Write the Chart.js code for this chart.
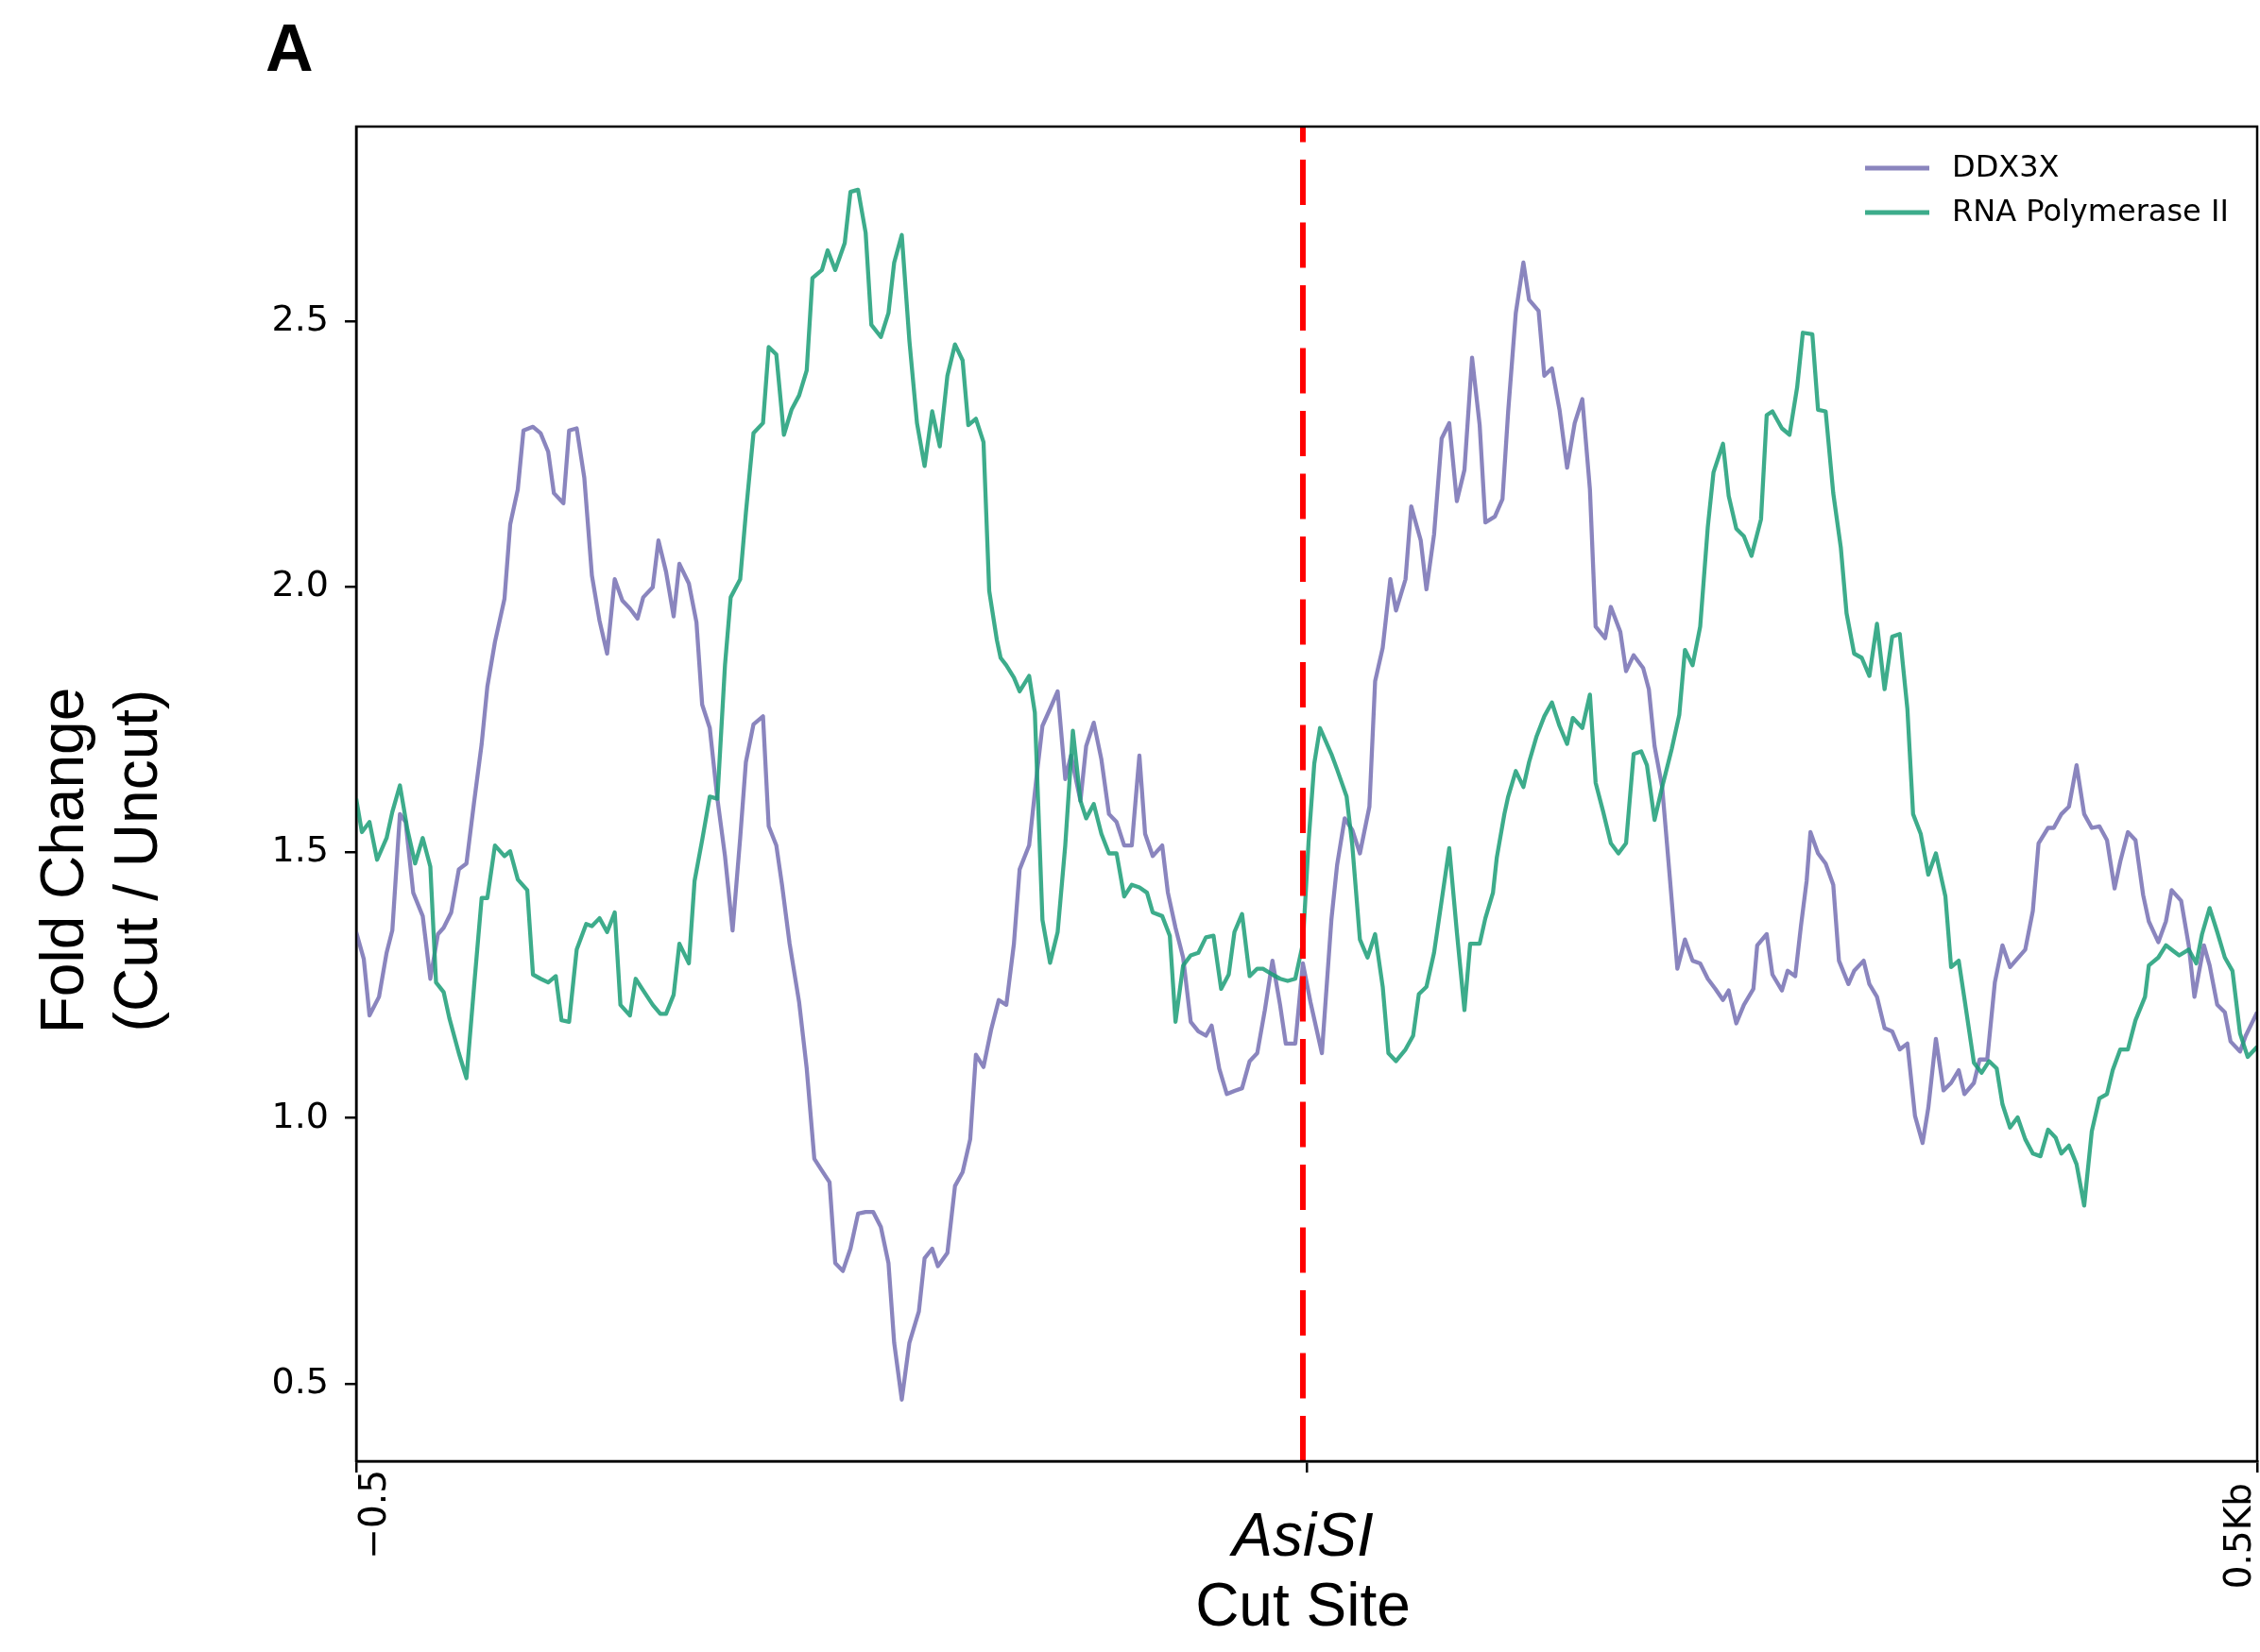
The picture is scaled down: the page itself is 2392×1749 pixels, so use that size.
<!DOCTYPE html>
<html>
<head>
<meta charset="utf-8">
<script src="https://cdn.jsdelivr.net/npm/chart.js@4.4.0/dist/chart.umd.min.js"></script>
<style>
  html, body { margin: 0; padding: 0; background: #fff; }
  canvas { display: block; }
</style>
</head>
<body>
<canvas id="foldChart" width="2392" height="1749"></canvas>
<script>
// Positions in bp relative to the AsiSI cut site, values = fold change (cut / uncut)
const ddxX = [
  -500, -496, -493, -488, -484, -481, -477, -474, -470, -465, -461, -457, -454, -450, -446,
  -442, -438, -434, -431, -427, -422, -419, -415, -412, -407, -403, -399, -396, -391, -388,
  -384, -380, -376, -372, -368, -364, -360, -356, -352, -349, -344, -341, -337, -333, -330,
  -325, -321, -318, -314, -310, -306, -302, -298, -295, -291, -286, -283, -279, -276, -272,
  -267, -263, -259, -255, -251, -248, -244, -240, -236, -232, -228, -224, -220, -217, -213,
  -209, -204, -201, -197, -194, -189, -185, -181, -177, -174, -170, -166, -162,
  -158, -154, -151, -146, -142, -139, -135, -131, -127, -124, -119, -116, -112, -108, -104,
  -100, -96, -92, -88, -85, -81, -76, -73, -69, -65, -61, -57, -53, -50, -46,
  -42, -38, -34, -30, -26, -22, -18, -14, -11, -6, -2, 2, 8,
  13, 16, 20, 24, 28, 33, 36, 40, 44, 47, 52, 55, 60, 63, 67,
  71, 75, 79, 83, 87, 91, 94, 99, 103, 106, 110, 114, 117, 122, 125,
  129, 133, 137, 141, 145, 149, 152, 157, 160, 165, 168, 172, 177,
  180, 183, 187, 191, 195, 199, 203, 207, 211, 215, 219, 222, 226, 230, 235,
  237, 242, 245, 250, 253, 257, 260, 263, 265, 269, 273, 277, 280, 285, 288,
  293, 296, 300, 304, 308, 312, 316, 320, 324, 327, 331, 335, 339, 343, 346,
  351, 354, 358, 362, 366, 370, 378, 382, 385, 390, 393, 397, 401, 405, 409,
  413, 417, 421, 425, 428, 432, 436, 440, 443, 448, 452, 455, 460, 464, 467,
  472, 475, 479, 483, 486, 491, 494, 500
];
const ddxY = [
  1.350, 1.299, 1.193, 1.228, 1.311, 1.353, 1.572, 1.557, 1.424, 1.380, 1.262, 1.346, 1.358, 1.387, 1.468,
  1.479, 1.594, 1.704, 1.812, 1.896, 1.977, 2.117, 2.183, 2.294, 2.301, 2.289, 2.254, 2.176, 2.157, 2.294,
  2.298, 2.205, 2.021, 1.936, 1.874, 2.014, 1.974, 1.959, 1.940, 1.980, 1.999, 2.087, 2.028, 1.944, 2.043,
  2.006, 1.933, 1.778, 1.734, 1.601, 1.493, 1.353, 1.527, 1.670, 1.741, 1.756, 1.549, 1.513, 1.439, 1.328,
  1.218, 1.093, 0.923, 0.901, 0.879, 0.727, 0.712, 0.754, 0.820, 0.823, 0.823, 0.795, 0.727, 0.577, 0.470,
  0.577, 0.636, 0.736, 0.754, 0.721, 0.746, 0.872, 0.898, 0.960, 1.119, 1.096, 1.166, 1.222,
  1.213, 1.328, 1.468, 1.513, 1.645, 1.738, 1.770, 1.803, 1.638, 1.682, 1.597, 1.700, 1.744, 1.675, 1.572,
  1.557, 1.513, 1.513, 1.682, 1.535, 1.493, 1.513, 1.424, 1.358, 1.302, 1.181, 1.163, 1.155, 1.174, 1.093,
  1.045, 1.051, 1.056, 1.107, 1.122, 1.203, 1.296, 1.213, 1.140, 1.140, 1.291, 1.218, 1.122,
  1.373, 1.476, 1.564, 1.542, 1.498, 1.586, 1.822, 1.885, 2.014, 1.955, 2.014, 2.151, 2.087, 1.995, 2.098,
  2.279, 2.308, 2.161, 2.220, 2.431, 2.304, 2.121, 2.132, 2.165, 2.330, 2.515, 2.610, 2.540, 2.519, 2.397,
  2.411, 2.333, 2.224, 2.308, 2.353, 2.183, 1.925, 1.903, 1.962, 1.915, 1.841, 1.871, 1.847,
  1.807, 1.700, 1.623, 1.454, 1.281, 1.336, 1.296, 1.291, 1.262, 1.243, 1.222, 1.240, 1.178, 1.213, 1.243,
  1.325, 1.346, 1.270, 1.240, 1.277, 1.267, 1.361, 1.446, 1.538, 1.498, 1.479, 1.439, 1.296, 1.252, 1.277,
  1.296, 1.252, 1.228, 1.169, 1.163, 1.129, 1.140, 1.004, 0.953, 1.019, 1.149, 1.052, 1.066, 1.090, 1.045,
  1.066, 1.110, 1.110, 1.255, 1.325, 1.284, 1.317, 1.390, 1.517, 1.546, 1.546, 1.572, 1.586, 1.664, 1.572,
  1.546, 1.549, 1.523, 1.432, 1.483, 1.538, 1.523, 1.420, 1.370, 1.331, 1.370, 1.429, 1.409, 1.325, 1.228,
  1.325, 1.287, 1.213, 1.199, 1.144, 1.125, 1.155, 1.199
];

const polX = [
  -500, -497, -493, -489, -484, -481, -477, -473, -469, -465, -461, -458, -454, -451, -446,
  -442, -438, -434, -431, -427, -422, -419, -415, -410, -407, -403, -399, -395, -392, -388,
  -384, -379, -376, -372, -368, -364, -361, -356, -353, -349, -344, -340, -337, -333, -330,
  -325, -322, -318, -314, -310, -306, -303, -298, -295, -291, -286, -283, -279, -275, -271,
  -267, -263, -260, -255, -252, -248, -243, -240, -236, -232, -229, -224, -220, -217, -213,
  -209, -205, -201, -197, -193, -189, -185, -181, -178, -174, -170, -167, -163, -161,
  -158, -154, -151, -146, -143, -139, -135, -131, -127, -123, -119, -116, -112, -108, -104,
  -100, -96, -92, -88, -84, -81, -76, -72, -69, -65, -61, -57, -53, -49, -45,
  -41, -38, -34, -30, -26, -23, -18, -14, -10, -6, -2, 1, 4, 7,
  13, 16, 21, 24, 28, 32, 36, 40, 43, 47, 52, 56, 59, 63, 67,
  71, 75, 79, 83, 86, 91, 94, 98, 100, 104, 106, 110, 114, 117, 121,
  125, 129, 133, 137, 140, 145, 149, 152, 156, 160, 164, 168, 172, 176,
  179, 183, 187, 192, 196, 199, 203, 207, 211, 214, 219, 222, 226, 230, 234,
  239, 242, 245, 250, 254, 258, 261, 266, 269, 273, 277, 281, 284, 288, 292,
  296, 300, 304, 308, 312, 316, 319, 323, 327, 331, 336, 339, 343, 346,
  351, 355, 359, 363, 366, 370, 374, 378, 382, 386, 390, 394, 397, 401, 405,
  409, 413, 417, 421, 424, 428, 432, 436, 441, 443, 448, 452, 456, 459, 464,
  468, 471, 475, 479, 483, 487, 491, 495, 500
];
const polY = [
  1.601, 1.538, 1.557, 1.486, 1.527, 1.576, 1.626, 1.542, 1.479, 1.527, 1.473, 1.255, 1.237, 1.188, 1.122,
  1.075, 1.247, 1.414, 1.414, 1.513, 1.493, 1.502, 1.449, 1.429, 1.270, 1.262, 1.255, 1.267, 1.184, 1.181,
  1.317, 1.365, 1.361, 1.376, 1.350, 1.387, 1.213, 1.193, 1.262, 1.240, 1.213, 1.196, 1.196, 1.232, 1.328,
  1.291, 1.446, 1.523, 1.605, 1.601, 1.852, 1.980, 2.014, 2.139, 2.289, 2.308, 2.451, 2.437, 2.286, 2.333,
  2.360, 2.407, 2.581, 2.596, 2.633, 2.596, 2.647, 2.743, 2.747, 2.666, 2.493, 2.470, 2.515, 2.610, 2.662,
  2.463, 2.308, 2.227, 2.330, 2.264, 2.397, 2.456, 2.426, 2.304, 2.316, 2.272, 1.992, 1.900, 1.866,
  1.852, 1.829, 1.803, 1.832, 1.763, 1.373, 1.292, 1.350, 1.513, 1.729, 1.597, 1.564, 1.591, 1.535, 1.498,
  1.498, 1.417, 1.439, 1.434, 1.424, 1.387, 1.380, 1.343, 1.181, 1.287, 1.306, 1.311, 1.340, 1.343, 1.243,
  1.270, 1.350, 1.384, 1.267, 1.281, 1.281, 1.270, 1.262, 1.258, 1.262, 1.328, 1.520, 1.667, 1.734,
  1.685, 1.656, 1.605, 1.513, 1.336, 1.302, 1.346, 1.247, 1.122, 1.107, 1.129, 1.155, 1.233, 1.247, 1.311,
  1.409, 1.508, 1.350, 1.203, 1.328, 1.328, 1.376, 1.424, 1.490, 1.572, 1.605, 1.653, 1.623, 1.670, 1.719,
  1.756, 1.782, 1.738, 1.704, 1.753, 1.734, 1.797, 1.631, 1.576, 1.517, 1.498, 1.517, 1.685, 1.690,
  1.664, 1.561, 1.623, 1.694, 1.759, 1.881, 1.852, 1.925, 2.112, 2.215, 2.269, 2.171, 2.109, 2.095, 2.058,
  2.127, 2.323, 2.330, 2.298, 2.286, 2.375, 2.478, 2.475, 2.333, 2.330, 2.176, 2.073, 1.950, 1.874, 1.866,
  1.832, 1.930, 1.807, 1.906, 1.911, 1.770, 1.572, 1.535, 1.458, 1.498, 1.417, 1.284, 1.296, 1.225,
  1.104, 1.085, 1.107, 1.093, 1.026, 0.982, 1.001, 0.960, 0.933, 0.928, 0.978, 0.963, 0.933, 0.948, 0.913,
  0.835, 0.975, 1.037, 1.045, 1.090, 1.129, 1.129, 1.184, 1.228, 1.287, 1.302, 1.325, 1.314, 1.306, 1.317,
  1.291, 1.346, 1.395, 1.350, 1.302, 1.277, 1.159, 1.115, 1.134
];

const seriesLabels = ['DDX3X', 'RNA Polymerase II'];
const cutSite = -2;
const xRange = [-500, 500];
const yRange = [0.354, 2.866];
const yTickValues = [0.5, 1.0, 1.5, 2.0, 2.5];
const xTickValues = [-500, 0, 500];
const xTickLabels = ['\u22120.5', '', '0.5Kb'];

const purple = 'rgba(117, 112, 179, 0.85)';
const green = 'rgba(27, 158, 119, 0.85)';
const dejavu = '"DejaVu Sans", Verdana, sans-serif';
const arial = '"Liberation Sans", Arial, Helvetica, sans-serif';

const toPoints = (xs, ys) => xs.map((x, i) => ({ x: x, y: ys[i] }));

// Texte, cadre et légende dessinés par-dessus le graphique
const decorations = {
    id: 'decorations',
    afterDraw(chart) {
        const ctx = chart.ctx;
        const a = chart.chartArea;
        const xScale = chart.scales.x;
        ctx.save();

        // cadre complet
        ctx.strokeStyle = '#000';
        ctx.lineWidth = 2.5;
        ctx.strokeRect(a.left, a.top, a.right - a.left, a.bottom - a.top);

        ctx.fillStyle = '#000';

        // lettre du panneau
        ctx.font = 'bold 70px ' + arial;
        ctx.textAlign = 'left';
        ctx.textBaseline = 'alphabetic';
        ctx.fillText('A', a.left - 96, a.top - 59);

        // étiquettes de l'axe x, tournées (première à gauche du tick, dernière à droite)
        ctx.font = '39px ' + dejavu;
        const tickShift = [[17, 9], null, [-21, 23]];
        xTickValues.forEach((v, i) => {
            const label = xTickLabels[i];
            if (!label) return;
            const px = xScale.getPixelForValue(v) + tickShift[i][0];
            ctx.save();
            ctx.translate(px + 14, a.bottom + tickShift[i][1]);
            ctx.rotate(-Math.PI / 2);
            ctx.textAlign = 'right';
            ctx.fillText(label, 0, 0);
            ctx.restore();
        });

        // titre de l'axe x
        const cx = xScale.getPixelForValue(cutSite);
        ctx.textAlign = 'center';
        ctx.font = 'italic 64px ' + arial;
        ctx.fillText('AsiSI', cx, a.bottom + 100);
        ctx.font = '64px ' + arial;
        ctx.fillText('Cut Site', cx, a.bottom + 174);

        // titre de l'axe y
        const midY = 911;
        ctx.save();
        ctx.translate(88, midY);
        ctx.rotate(-Math.PI / 2);
        ctx.fillText('Fold Change', 0, 0);
        ctx.restore();
        ctx.save();
        ctx.translate(166, midY);
        ctx.rotate(-Math.PI / 2);
        ctx.fillText('(Cut / Uncut)', 0, 0);
        ctx.restore();

        // légende
        ctx.font = '32px ' + dejavu;
        ctx.textAlign = 'left';
        ctx.textBaseline = 'middle';
        const entries = chart.data.datasets.filter(d => seriesLabels.includes(d.label));
        entries.forEach((d, i) => {
            const y = 178 + i * 47;
            ctx.strokeStyle = d.borderColor;
            ctx.lineWidth = 5;
            ctx.beginPath();
            ctx.moveTo(1974, y);
            ctx.lineTo(2042, y);
            ctx.stroke();
            ctx.fillStyle = '#000';
            ctx.fillText(d.label, 2066, y + 1);
        });

        ctx.restore();
    }
};

const ctx = document.getElementById('foldChart').getContext('2d');
const foldChart = new Chart(ctx, {
    type: 'line',
    data: {
        datasets: [
            {
                label: seriesLabels[0],
                data: toPoints(ddxX, ddxY),
                borderColor: purple,
                borderWidth: 4.3,
                borderJoinStyle: 'round',
                pointRadius: 0,
                tension: 0,
                order: 2,
            },
            {
                label: seriesLabels[1],
                data: toPoints(polX, polY),
                borderColor: green,
                borderWidth: 4.3,
                borderJoinStyle: 'round',
                pointRadius: 0,
                tension: 0,
                order: 1,
            },
            {
                label: 'cut',
                data: [{ x: cutSite, y: yRange[0] }, { x: cutSite, y: yRange[1] }],
                borderColor: '#ff0000',
                borderWidth: 6,
                borderDash: [48, 18.5],
                pointRadius: 0,
                order: 0,
            },
        ],
    },
    options: {
        responsive: false,
        animation: false,
        devicePixelRatio: 1,
        layout: { padding: { top: 134, right: 3, left: 0, bottom: 0 } },
        plugins: {
            legend: { display: false },
            tooltip: { enabled: false },
        },
        scales: {
            x: {
                type: 'linear',
                min: xRange[0],
                max: xRange[1],
                afterBuildTicks: (scale) => { scale.ticks = xTickValues.map(v => ({ value: v })); },
                afterFit: (scale) => { scale.height = 202; },
                ticks: { display: false },
                grid: { drawOnChartArea: false, drawTicks: true, tickLength: 12, color: '#000', lineWidth: 2.5 },
                border: { display: true, color: '#000', width: 2.5 },
            },
            y: {
                min: yRange[0],
                max: yRange[1],
                afterBuildTicks: (scale) => { scale.ticks = yTickValues.map(v => ({ value: v })); },
                afterFit: (scale) => { scale.width = 377; },
                ticks: {
                    color: '#000',
                    padding: 17,
                    font: { family: dejavu, size: 38 },
                    callback: (v) => Number(v).toFixed(1),
                },
                grid: { drawOnChartArea: false, drawTicks: true, tickLength: 12, color: '#000', lineWidth: 2.5 },
                border: { display: true, color: '#000', width: 2.5 },
            },
        },
    },
    plugins: [decorations],
});
</script>
</body>
</html>
